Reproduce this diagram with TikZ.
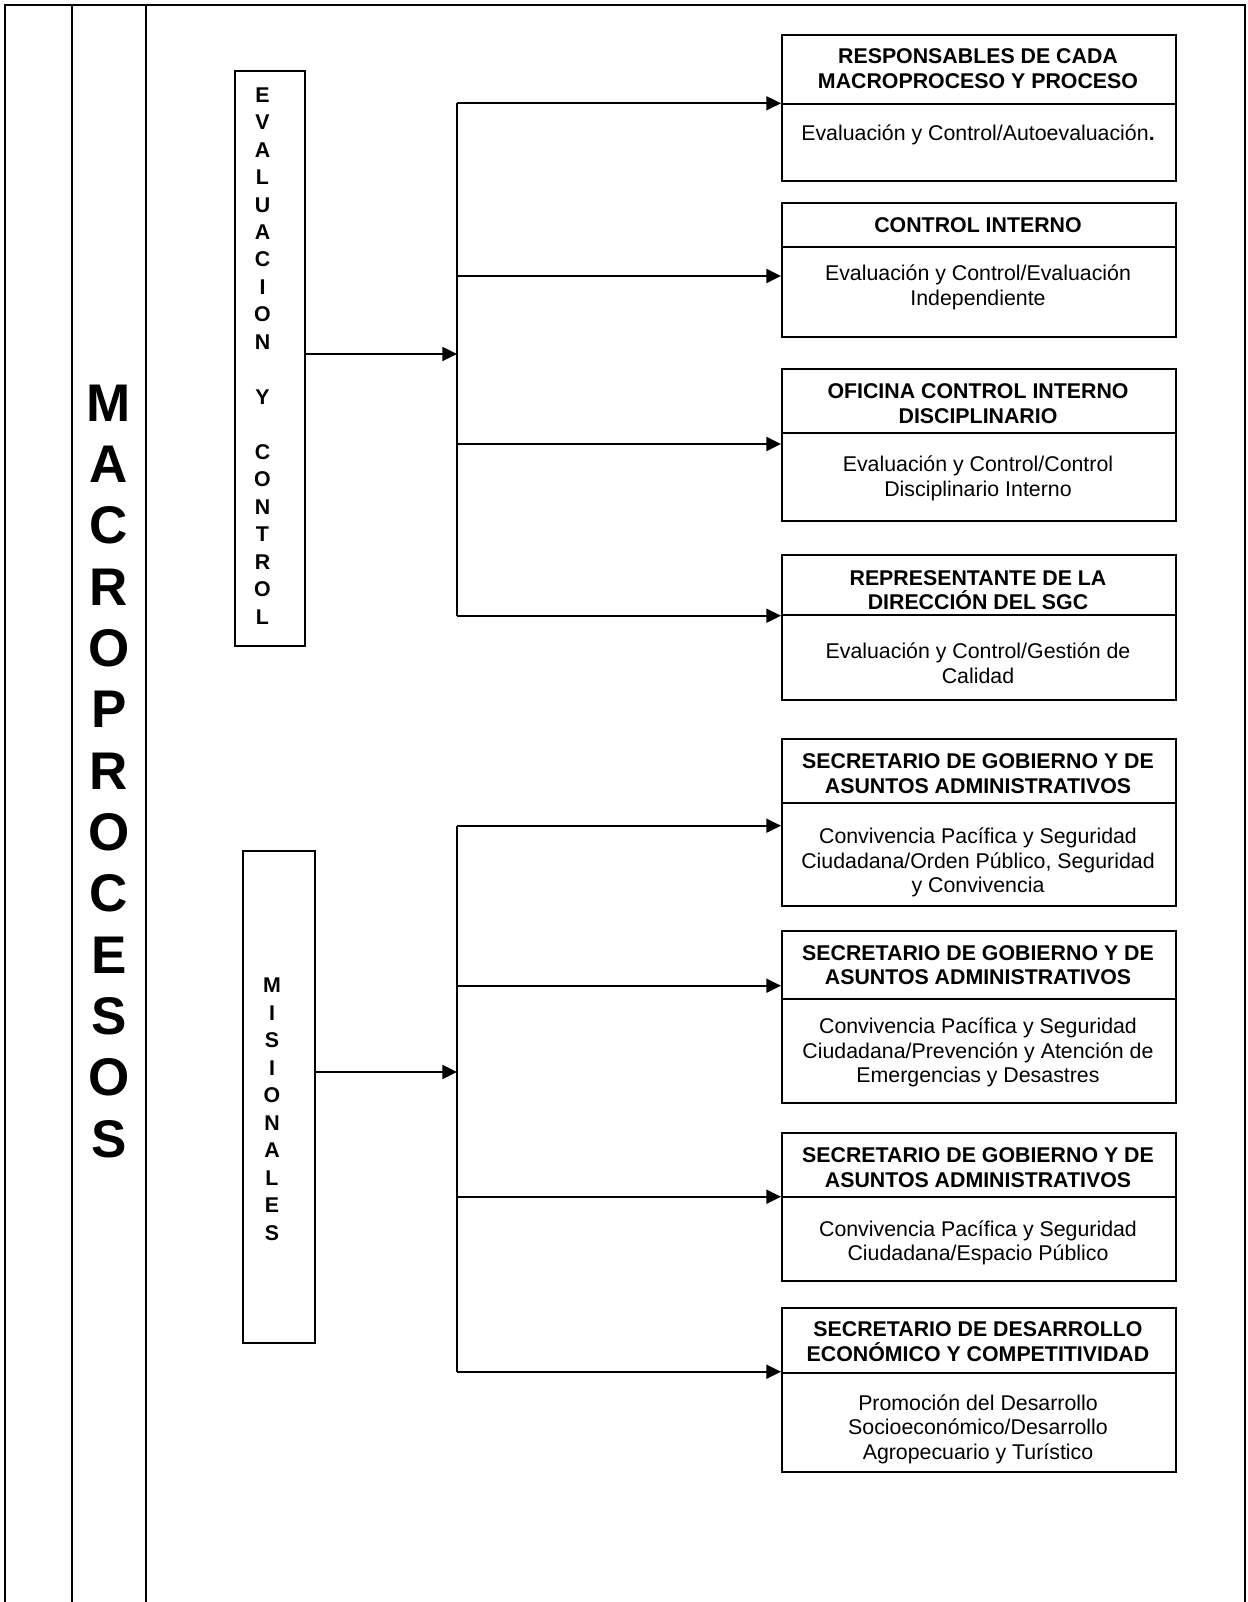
\documentclass[tikz,border=0pt]{standalone}
\usepackage{fontspec}
\setmainfont{Liberation Sans}
\usetikzlibrary{arrows.meta}
\newcommand\fst{\rule{0pt}{16.5pt}}
\newcommand\bst{\rule{0pt}{37.5pt}}
\newcommand\rbox[4]{%
  \node[frame, minimum width=295.5pt, minimum height={(#3-#2)*0.75pt}] (#1h) at (781,#2) {};
  \node[frame, minimum width=295.5pt, minimum height={(#4-#3)*0.75pt}] (#1b) at (781,#3) {};}
\begin{document}
\begin{tikzpicture}[x=0.75pt,y=-0.75pt,
  frame/.style={draw, line width=1.5pt, inner sep=0pt, anchor=north west},
  conn/.style={line width=1.3pt},
  arr/.style={conn, -{Triangle[length=11pt,width=10.5pt]}},
  head/.style={anchor=north, inner sep=0pt, align=center, font=\fontsize{16pt}{18.4pt}\selectfont\bfseries},
  body/.style={anchor=north, inner sep=0pt, align=center, font=\fontsize{16pt}{18.4pt}\selectfont},
  vlet/.style={anchor=north, inner sep=0pt, align=center, font=\fontsize{16pt}{20.6pt}\selectfont\bfseries},
  big/.style={anchor=north, inner sep=0pt, align=center, font=\fontsize{39.75pt}{46pt}\selectfont\bfseries},
]
\useasboundingbox (0,0) rectangle (1248,1602);
% table frame
\draw[line width=1.5pt] (5,1602) -- (5,5) -- (1245,5) -- (1245,1602);
\draw[line width=1.5pt] (72,5) -- (72,1602);
\draw[line width=1.5pt] (146,5) -- (146,1602);
% big label
\node[big] (macro) at (109,371) {\bst M\\A\\C\\R\\O\\P\\R\\O\\C\\E\\S\\O\\S};
% left boxes
\node[frame, minimum width=52.9pt, minimum height=431.25pt] (evalbox) at (233.5,70) {};
\node[vlet] (evaltxt) at (262.5,79.9) {\fst E\\V\\A\\L\\U\\A\\C\\I\\O\\N\\[20.6pt]Y\\[20.6pt]C\\O\\N\\T\\R\\O\\L};
\node[frame, minimum width=54.2pt, minimum height=368.8pt] (misbox) at (241.7,850) {};
\node[vlet] (mistxt) at (272,970.6) {\fst M\\I\\S\\I\\O\\N\\A\\L\\E\\S};
% right boxes
\rbox{b1}{34}{103.3}{180}
\rbox{b2}{202}{246}{335.7}
\rbox{b3}{368.3}{431.7}{520}
\rbox{b4}{554.3}{614}{699.3}
\rbox{b5}{738.3}{801.7}{905}
\rbox{b6}{930}{997.7}{1101.7}
\rbox{b7}{1132.3}{1196}{1280}
\rbox{b8}{1306.7}{1371.7}{1471}
\node[head] (b1x) at (978,41.6) {\fst RESPONSABLES DE CADA\\MACROPROCESO Y PROCESO};
\node[body] (b1y) at (978,118.6) {\fst Evaluación y Control/Autoevaluación\textbf{.}};
\node[head] (b2x) at (978,210.3) {\fst CONTROL INTERNO};
\node[body] (b2y) at (978,258.6) {\fst Evaluación y Control/Evaluación\\Independiente};
\node[head] (b3x) at (978,376.4) {\fst OFICINA CONTROL INTERNO\\DISCIPLINARIO};
\node[body] (b3y) at (978,449.6) {\fst Evaluación y Control/Control\\Disciplinario Interno};
\node[head] (b4x) at (978,563.1) {\fst REPRESENTANTE DE LA\\DIRECCIÓN DEL SGC};
\node[body] (b4y) at (978,636.6) {\fst Evaluación y Control/Gestión de\\Calidad};
\node[head] (b5x) at (978,746.6) {\fst SECRETARIO DE GOBIERNO Y DE\\ASUNTOS ADMINISTRATIVOS};
\node[body] (b5y) at (978,821.6) {\fst Convivencia Pacífica y Seguridad\\Ciudadana/Orden Público, Seguridad\\y Convivencia};
\node[head] (b6x) at (978,938.1) {\fst SECRETARIO DE GOBIERNO Y DE\\ASUNTOS ADMINISTRATIVOS};
\node[body] (b6y) at (978,1011.6) {\fst Convivencia Pacífica y Seguridad\\Ciudadana/Prevención y Atención de\\Emergencias y Desastres};
\node[head] (b7x) at (978,1140.3) {\fst SECRETARIO DE GOBIERNO Y DE\\ASUNTOS ADMINISTRATIVOS};
\node[body] (b7y) at (978,1213.9) {\fst Convivencia Pacífica y Seguridad\\Ciudadana/Espacio Público};
\node[head] (b8x) at (978,1314.6) {\fst SECRETARIO DE DESARROLLO\\ECONÓMICO Y COMPETITIVIDAD};
\node[body] (b8y) at (978,1388.1) {\fst Promoción del Desarrollo\\Socioeconómico/Desarrollo\\Agropecuario y Turístico};
% trunk points
\coordinate (ej) at (457,354);
\coordinate (e1) at (457,103.3);
\coordinate (e2) at (457,276);
\coordinate (e3) at (457,444);
\coordinate (e4) at (457,615.7);
\coordinate (mj) at (457,1072);
\coordinate (m1) at (457,825.7);
\coordinate (m2) at (457,985.7);
\coordinate (m3) at (457,1196.7);
\coordinate (m4) at (457,1371.7);
% connectors
\draw[conn] (e1) -- (e4);
\draw[conn] (m1) -- (m4);
\draw[arr] (evalbox.east |- ej) -- (ej);
\draw[arr] (misbox.east |- mj) -- (mj);
\draw[arr] (e1) -- (e1 -| b1h.west);
\draw[arr] (e2) -- (e2 -| b2b.west);
\draw[arr] (e3) -- (e3 -| b3b.west);
\draw[arr] (e4) -- (e4 -| b4b.west);
\draw[arr] (m1) -- (m1 -| b5b.west);
\draw[arr] (m2) -- (m2 -| b6h.west);
\draw[arr] (m3) -- (m3 -| b7b.west);
\draw[arr] (m4) -- (m4 -| b8b.west);
\end{tikzpicture}
\end{document}
